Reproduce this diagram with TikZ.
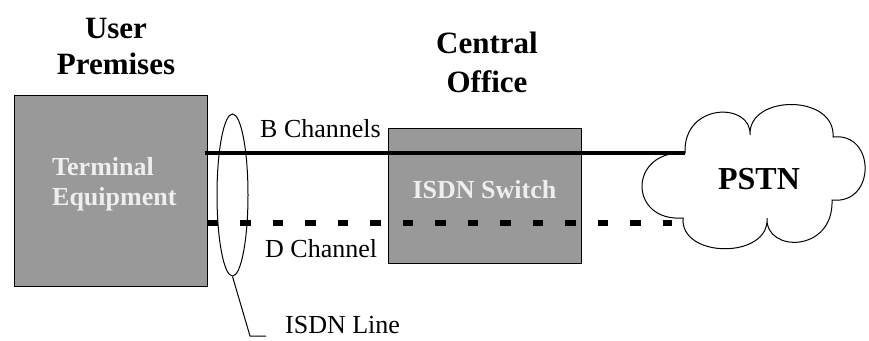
\documentclass[tikz,border=0pt]{standalone}
\usepackage{fontspec}
\setmainfont{Liberation Serif}
\usetikzlibrary{shapes.geometric}
\definecolor{boxgray}{RGB}{153,153,153}
\definecolor{boxtext}{RGB}{238,238,238}
\begin{document}
\begin{tikzpicture}[x=1pt,y=-1pt,
  box/.style={draw=black, line width=1pt, fill=boxgray, inner sep=0pt},
  boxlabel/.style={text=boxtext, inner sep=0pt, font=\bfseries\fontsize{26}{30}\selectfont},
  heading/.style={inner sep=0pt, align=center, font=\bfseries\fontsize{31}{36}\selectfont},
  linelabel/.style={inner sep=0pt, font=\fontsize{26}{30}\selectfont},
  bline/.style={line width=4.5pt, line cap=butt},
  dline/.style={line width=6pt, line cap=butt, dash pattern=on 10.7pt off 21.8pt},
  thin/.style={line width=1pt}]
\useasboundingbox (0,0) rectangle (869,340);

% equipment boxes
\node[box, minimum width=193pt, minimum height=191pt] (te) at (110.5,190.5) {};
\node[box, minimum width=193pt, minimum height=135pt] (sw) at (484.5,195.5) {};

% PSTN cloud
\coordinate (J1) at (685,153);
\coordinate (J2) at (750,135);
\coordinate (J3) at (833,137);
\coordinate (J4) at (832,200);
\coordinate (J5) at (767,218);
\coordinate (J6) at (683,218);
\draw[thin, fill=white] (J1)
  .. controls (683,102) and (752,102) .. (J2)
  .. controls (748,94) and (836,94) .. (J3)
  .. controls (876,132) and (876,205) .. (J4)
  .. controls (834,253) and (765,253) .. (J5)
  .. controls (770,259) and (680,259) .. (J6)
  .. controls (628,222) and (628,150) .. cycle;

% bundle ring marking the ISDN line
\node[draw, thin, ellipse, inner sep=0pt, minimum width=31pt, minimum height=162pt] (ring) at (232.5,195) {};
\coordinate (bend) at (250,336);
\coordinate (tail) at (266,336);
\draw[thin] (ring.south) -- (bend) -- (tail);

% channels
\coordinate (dend) at (672,222.7);
\draw[bline, shorten <=-3pt] (te.east |- J1) -- (J1);
\draw[dline] (te.east |- dend) -- (dend);

% labels
\node[heading, anchor=north] (up) at (116,18.5) {User\\Premises};
\node[heading, anchor=north, font=\bfseries\fontsize{31}{38.5}\selectfont] (co) at (487,31.8) {Central\\Office};
\node[boxlabel, align=left, anchor=north west] (tel) at (52,157.2) {Terminal\\Equipment};
\node[boxlabel, anchor=base] (swl) at (484.5,198) {ISDN Switch};
\node[inner sep=0pt, anchor=base, font=\bfseries\fontsize{32}{36}\selectfont] (pstn) at (759,189) {PSTN};
\node[linelabel, anchor=base west] (bch) at (260,137) {B Channels};
\node[linelabel, anchor=base west] (dch) at (265,257) {D Channel};
\node[linelabel, anchor=base west] (isdn) at (285,333) {ISDN Line};
\end{tikzpicture}
\end{document}
